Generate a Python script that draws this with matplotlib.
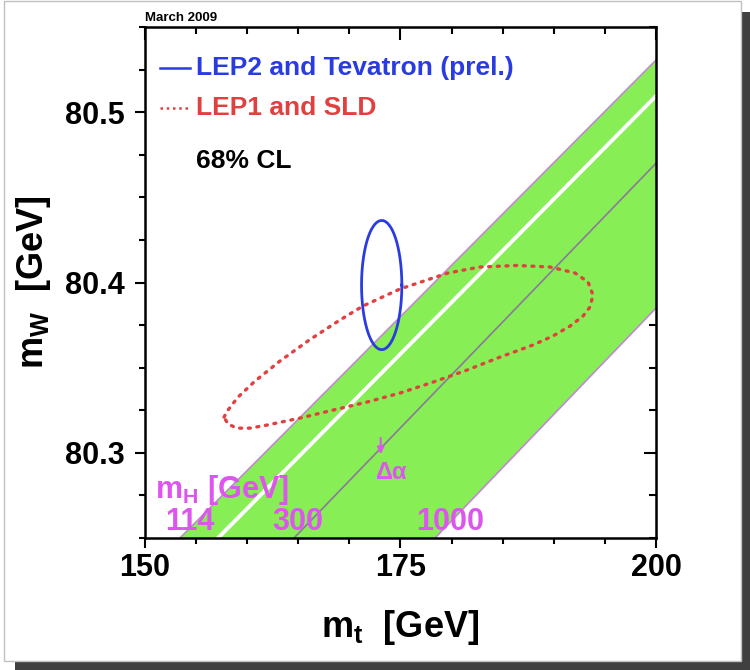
import matplotlib
matplotlib.use('Agg')
import matplotlib.pyplot as plt
import numpy as np
from matplotlib.patches import Rectangle

# SM band lines: (mt at lower edge, mW at mt=200)
band_upper_mt = [153.42, 200.0]
band_upper_mw = [80.25, 80.5306]
white_mt = [157.14, 200.0]
white_mw = [80.25, 80.5095]
h300_mt = [164.58, 200.0]
h300_mw = [80.25, 80.470]
band_lower_mt = [178.38, 200.0]
band_lower_mw = [80.25, 80.385]

mh_labels = ['114', '300', '1000']
mh_label_mt = [154.4, 164.97, 179.84]

# direct measurement (LEP2 and Tevatron)
direct_mt, direct_mw = 173.16, 80.3985
direct_err_mt, direct_err_mw = 1.3, 0.025
cl68 = np.sqrt(2.3)

# indirect contour (LEP1 and SLD)
lep1_mt = [157.73, 158.12, 159.10, 160.76, 163.21, 166.14, 169.08, 171.33, 174.95,
           179.65, 182.78, 186.40, 189.63, 192.07, 193.35, 193.84,
           193.54, 192.86, 191.59, 189.92, 187.96, 184.74, 181.51, 178.18, 174.95,
           171.72, 168.40, 165.17, 161.94, 160.27, 159.00, 158.12, 157.73]
lep1_mw = [80.3210, 80.3251, 80.3327, 80.3421, 80.3539, 80.3665, 80.3780, 80.3862, 80.3962,
           80.4056, 80.4091, 80.4100, 80.4091, 80.4056, 80.4003, 80.3926,
           80.3856, 80.3803, 80.3744, 80.3686, 80.3633, 80.3562, 80.3486, 80.3415, 80.3351,
           80.3298, 80.3251, 80.3204, 80.3163, 80.3145, 80.3145, 80.3169, 80.3210]

label_direct = 'LEP2 and Tevatron (prel.)'
label_indirect = 'LEP1 and SLD'

plt.rcParams['font.family'] = ['Liberation Sans', 'DejaVu Sans']
plt.rcParams['mathtext.fontset'] = 'custom'
plt.rcParams['mathtext.rm'] = 'Liberation Sans:bold'
plt.rcParams['mathtext.bf'] = 'Liberation Sans:bold'
plt.rcParams['mathtext.it'] = 'Liberation Sans:bold'

green = '#88ee55'
edge_col = '#c08ad0'
magenta = '#dd55ee'
blue = '#2a3ce0'
red = '#e04040'

fig = plt.figure(figsize=(7.5, 6.7), dpi=100)
# shadowed frame
fig.patches.append(Rectangle((0.02, 0), 0.98, 0.982, transform=fig.transFigure,
                             fc='#404040', ec='none', zorder=-2))
fig.patches.append(Rectangle((0.00533, 0.01343), 0.98267, 0.98507, transform=fig.transFigure,
                             fc='white', ec='#c0c0c0', lw=1, zorder=-1))

ax = fig.add_axes([0.19333, 0.19701, 0.68133, 0.76269])
ax.set_xlim(150, 200)
ax.set_ylim(80.25, 80.55)

# green band
poly_mt = band_upper_mt + band_lower_mt[::-1]
poly_mw = band_upper_mw + band_lower_mw[::-1]
ax.fill(poly_mt, poly_mw, color=green, lw=0, zorder=1)
ax.plot(band_upper_mt, band_upper_mw, color=edge_col, lw=1.2, zorder=2)
ax.plot(band_lower_mt, band_lower_mw, color=edge_col, lw=1.2, zorder=2)
ax.plot(white_mt, white_mw, color='white', lw=2.8, zorder=2)
ax.plot(h300_mt, h300_mw, color='#8a7a9a', lw=1.2, zorder=2)

# ellipses
t = np.linspace(0, 2 * np.pi, 300)
ax.plot(direct_mt + cl68 * direct_err_mt * np.cos(t),
        direct_mw + cl68 * direct_err_mw * np.sin(t), color=blue, lw=2, zorder=4)
ax.plot(lep1_mt, lep1_mw, color=red, lw=2.4, ls=(0, (0.6, 2.0)),
        dash_capstyle='round', zorder=3)

# legend
ax.plot([0.0294, 0.088], [0.9198, 0.9198], transform=ax.transAxes, color=blue, lw=1.8)
ax.plot([0.0294, 0.088], [0.8415, 0.8415], transform=ax.transAxes, color=red, lw=1.8,
        ls=(0, (1, 1.5)))
ax.text(0.0998, 0.9198, label_direct, transform=ax.transAxes, color=blue,
        fontsize=19, fontweight='bold', va='center', ha='left')
ax.text(0.0998, 0.8415, label_indirect, transform=ax.transAxes, color=red,
        fontsize=19, fontweight='bold', va='center', ha='left')
ax.text(0.0998, 0.7378, '68% CL', transform=ax.transAxes, color='black',
        fontsize=19, fontweight='bold', va='center', ha='left')

# mH labels
ax.text(0.0196, 0.094, r'm$_\mathrm{H}$ [GeV]', transform=ax.transAxes, color=magenta,
        fontsize=22, fontweight='bold', va='center', ha='left')
for lab, x in zip(mh_labels, mh_label_mt):
    ax.text(x, 80.2594, lab, color=magenta, fontsize=22, fontweight='bold',
            ha='center', va='center')

# delta alpha arrow
ax.annotate('', xy=(173.06, 80.2975), xytext=(173.06, 80.3104),
            arrowprops=dict(arrowstyle='-|>', color=magenta, lw=1.5, mutation_scale=10))
ax.text(174.17, 80.2887, r'$\Delta\alpha$', color=magenta, fontsize=17,
        ha='center', va='center', family='DejaVu Sans')

# ticks
ax.set_xticks([150, 175, 200])
ax.set_xticks(np.arange(150, 201, 5), minor=True)
ax.set_yticks([80.3, 80.4, 80.5])
ax.set_yticks(np.arange(80.25, 80.551, 0.025), minor=True)
ax.set_yticklabels(['80.3', '80.4', '80.5'])
ax.tick_params(which='both', direction='out', top=False, right=False, width=1.5)
ax.tick_params(which='major', length=7.5, labelsize=22)
ax.tick_params(axis='y', which='major', pad=7)
ax.tick_params(axis='x', which='major', pad=3)
ax.tick_params(which='minor', length=4)
for lab in ax.get_xticklabels() + ax.get_yticklabels():
    lab.set_fontweight('bold')
for sp in ax.spines.values():
    sp.set_linewidth(1.8)

secx = ax.secondary_xaxis('top')
secx.set_xticks([150, 175, 200])
secx.set_xticks(np.arange(150, 201, 5), minor=True)
secx.tick_params(which='both', direction='in', labeltop=False, width=1.5)
secx.tick_params(which='major', length=9)
secx.tick_params(which='minor', length=5)
secy = ax.secondary_yaxis('right')
secy.set_yticks([80.3, 80.4, 80.5])
secy.set_yticks(np.arange(80.25, 80.551, 0.025), minor=True)
secy.tick_params(which='both', direction='in', labelright=False, width=1.5)
secy.tick_params(which='major', length=9)
secy.tick_params(which='minor', length=5)

ax.set_xlabel(r'm$_\mathrm{t}$  [GeV]', fontsize=26, fontweight='bold', labelpad=18)
ax.set_ylabel(r'm$_\mathrm{W}$  [GeV]', fontsize=26, fontweight='bold', labelpad=9)

fig.text(0.1933, 0.973, 'March 2009', fontsize=9.5, fontweight='bold', ha='left', va='center')

fig.savefig('out.png', dpi=100)
